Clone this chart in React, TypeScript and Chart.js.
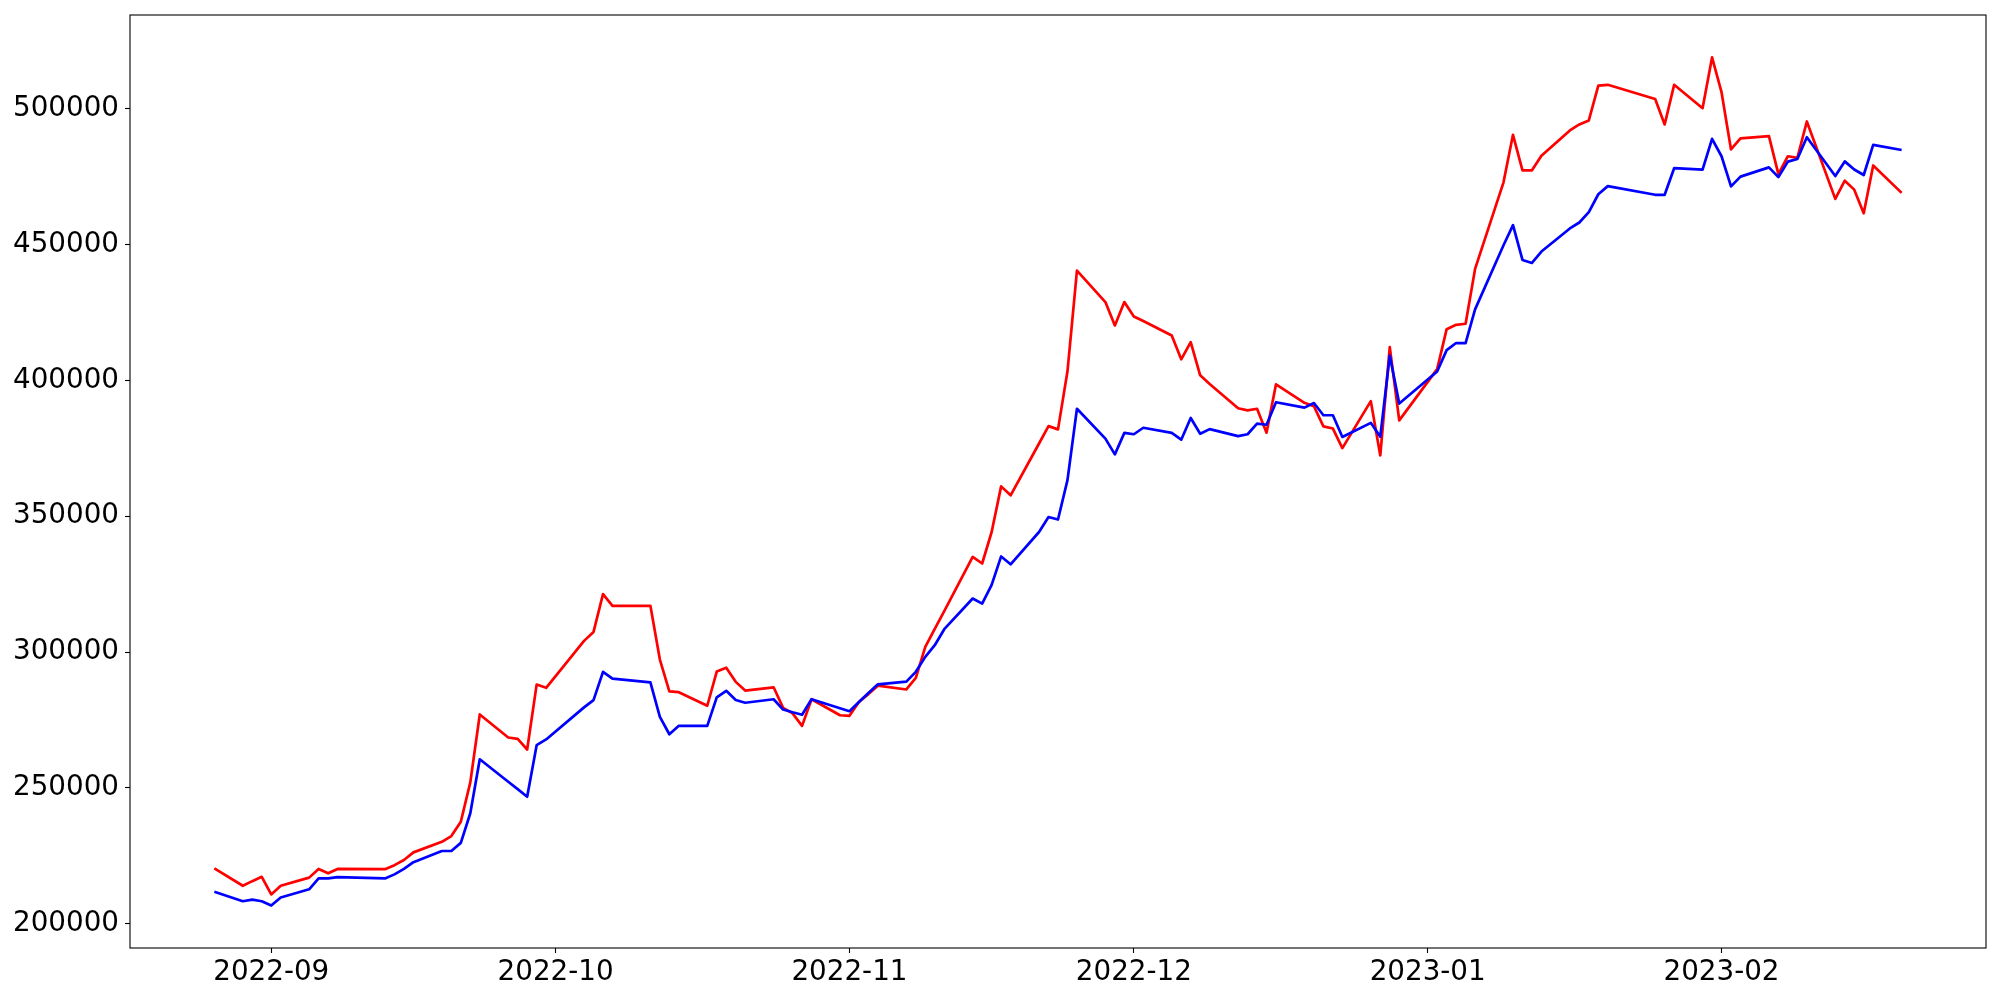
import React, { useEffect, useRef } from 'react';
import { Chart, registerables } from 'chart.js';

Chart.register(...registerables);

// Trading days (KRX calendar)
const dates: string[] = [
  '2022-08-26', '2022-08-29', '2022-08-30', '2022-08-31',
  '2022-09-01', '2022-09-02', '2022-09-05', '2022-09-06', '2022-09-07', '2022-09-08', '2022-09-13', '2022-09-14',
  '2022-09-15', '2022-09-16', '2022-09-19', '2022-09-20', '2022-09-21', '2022-09-22', '2022-09-23', '2022-09-26',
  '2022-09-27', '2022-09-28', '2022-09-29', '2022-09-30',
  '2022-10-04', '2022-10-05', '2022-10-06', '2022-10-07', '2022-10-11', '2022-10-12', '2022-10-13', '2022-10-14',
  '2022-10-17', '2022-10-18', '2022-10-19', '2022-10-20', '2022-10-21', '2022-10-24', '2022-10-25', '2022-10-26',
  '2022-10-27', '2022-10-28', '2022-10-31',
  '2022-11-01', '2022-11-02', '2022-11-03', '2022-11-04', '2022-11-07', '2022-11-08', '2022-11-09', '2022-11-10',
  '2022-11-11', '2022-11-14', '2022-11-15', '2022-11-16', '2022-11-17', '2022-11-18', '2022-11-21', '2022-11-22',
  '2022-11-23', '2022-11-24', '2022-11-25', '2022-11-28', '2022-11-29', '2022-11-30',
  '2022-12-01', '2022-12-02', '2022-12-05', '2022-12-06', '2022-12-07', '2022-12-08', '2022-12-09', '2022-12-12',
  '2022-12-13', '2022-12-14', '2022-12-15', '2022-12-16', '2022-12-19', '2022-12-20', '2022-12-21', '2022-12-22',
  '2022-12-23', '2022-12-26', '2022-12-27', '2022-12-28', '2022-12-29',
  '2023-01-02', '2023-01-03', '2023-01-04', '2023-01-05', '2023-01-06', '2023-01-09', '2023-01-10', '2023-01-11',
  '2023-01-12', '2023-01-13', '2023-01-16', '2023-01-17', '2023-01-18', '2023-01-19', '2023-01-20', '2023-01-25',
  '2023-01-26', '2023-01-27', '2023-01-30', '2023-01-31',
  '2023-02-01', '2023-02-02', '2023-02-03', '2023-02-06', '2023-02-07', '2023-02-08', '2023-02-09', '2023-02-10',
  '2023-02-13', '2023-02-14', '2023-02-15', '2023-02-16', '2023-02-17', '2023-02-20',
];

const redValues: number[] = [
  220300, 213900, 215600, 217200,
  210700, 213900, 216900, 220100, 218500, 220100, 220000, 221500, 223400, 226200, 230100, 232200, 237500, 252000,
  277000, 268500, 268000, 264100, 288000, 286800,
  304100, 307400, 321300, 317000, 317000, 297200, 285500, 285200, 280200, 292800, 294200, 289000, 285800, 287000,
  279400, 277400, 272800, 282600, 276700,
  276500, 281600, 284500, 287600, 286200, 290500, 301900, 308500, 315100, 335000, 332600, 344200, 361000, 357700,
  376800, 383200, 382000, 403400, 440500, 428900, 420300, 428900,
  423600, 421900, 416600, 407800, 414100, 401900, 398700, 389800, 389000, 389600, 380800, 398600, 391800, 390500,
  383100, 382300, 375100, 392400, 372400, 412300, 385300,
  404200, 418900, 420500, 420900, 441100, 473000, 490500, 477400, 477400, 482800, 492100, 494300, 495800, 508600,
  508900, 503700, 494300, 508900, 500300, 519000,
  506200, 485100, 489200, 490000, 476000, 482600, 482000, 495400, 466900, 473600, 470300, 461600, 479200, 469100,
];

const blueValues: number[] = [
  211700, 208200, 208800, 208200,
  206600, 209600, 212600, 216600, 216600, 217100, 216600, 218100, 220100, 222600, 226700, 226700, 229700, 240600,
  260500, 252200, 249500, 246700, 265700, 267800,
  279600, 282300, 292700, 290200, 288800, 276100, 269700, 272800, 272800, 283300, 285700, 282300, 281300, 282600,
  278800, 277800, 276900, 282600, 279300,
  278200, 281600, 284900, 288100, 289100, 292700, 298200, 302500, 308400, 319700, 317800, 324700, 335200, 332300,
  344200, 349700, 348800, 363300, 389600, 378600, 372800, 380700,
  380200, 382600, 380700, 378200, 386200, 380400, 382100, 379500, 380200, 384100, 383700, 392000, 390000, 391700,
  387200, 387200, 379200, 384400, 379300, 409200, 391500,
  403300, 411200, 413800, 413800, 426200, 449800, 457200, 444400, 443300, 447500, 456000, 458200, 462000, 468600,
  471600, 468400, 468400, 478200, 477700, 489000,
  482600, 471500, 475100, 478500, 474900, 480600, 481600, 489600, 475300, 480700, 477700, 475700, 486800, 484900,
];

const xTickDates: string[] = ['2022-09-01', '2022-10-01', '2022-11-01', '2022-12-01', '2023-01-01', '2023-02-01'];
const xTickLabels: string[] = ['2022-09', '2022-10', '2022-11', '2022-12', '2023-01', '2023-02'];
const yTicks: number[] = [200000, 250000, 300000, 350000, 400000, 450000, 500000];

const toDay = (s: string) => {
  const [y, m, d] = s.split('-').map(Number);
  return Date.UTC(y, m - 1, d) / 86400000;
};

export default function App() {
  const ref = useRef<HTMLCanvasElement>(null);

  useEffect(() => {
    const canvas = ref.current;
    if (!canvas) return;
    const xs = dates.map(toDay);
    const allY = [...redValues, ...blueValues];
    const yMinD = Math.min(...allY);
    const yMaxD = Math.max(...allY);
    const yr = yMaxD - yMinD;
    const xMinD = xs[0];
    const xMaxD = xs[xs.length - 1];
    const xr = xMaxD - xMinD;
    const font = { family: 'DejaVu Sans', size: 27.78 };

    const framePlugin = {
      id: 'frame',
      afterDatasetsDraw(chart: any) {
        const { ctx, chartArea } = chart;
        ctx.save();
        ctx.strokeStyle = '#000';
        ctx.lineWidth = 1.1;
        ctx.strokeRect(chartArea.left, chartArea.top, chartArea.right - chartArea.left, chartArea.bottom - chartArea.top);
        ctx.restore();
      },
    };

    const chart = new Chart(canvas, {
      type: 'line',
      data: {
        datasets: [
          {
            label: 'blue',
            data: xs.map((x, i) => ({ x, y: blueValues[i] })),
            borderColor: '#0000ff',
            borderWidth: 2.7,
            pointRadius: 0,
            tension: 0,
            fill: false,
            borderJoinStyle: 'round',
            order: 0,
          },
          {
            label: 'red',
            data: xs.map((x, i) => ({ x, y: redValues[i] })),
            borderColor: '#ff0000',
            borderWidth: 2.7,
            pointRadius: 0,
            tension: 0,
            fill: false,
            borderJoinStyle: 'round',
            order: 1,
          },
        ],
      },
      options: {
        animation: false,
        responsive: false,
        devicePixelRatio: 1,
        layout: { padding: { left: 0, right: 14, top: 15, bottom: 0 } },
        plugins: { legend: { display: false }, tooltip: { enabled: false } },
        scales: {
          x: {
            type: 'linear',
            min: xMinD - 0.05 * xr,
            max: xMaxD + 0.05 * xr,
            afterBuildTicks: (scale: any) => {
              scale.ticks = xTickDates.map((d) => ({ value: toDay(d) }));
            },
            afterFit: (scale: any) => {
              scale.height = 52;
              scale.paddingLeft = 0;
              scale.paddingRight = 0;
            },
            ticks: {
              autoSkip: false,
              maxRotation: 0,
              font,
              color: '#000',
              padding: 3,
              callback: (_v: any, i: number) => xTickLabels[i],
            },
            grid: { drawOnChartArea: false, drawTicks: true, tickLength: 5, tickColor: '#000', tickWidth: 1.1 },
            border: { display: false },
          },
          y: {
            type: 'linear',
            min: yMinD - 0.05 * yr,
            max: yMaxD + 0.05 * yr,
            afterBuildTicks: (scale: any) => {
              scale.ticks = yTicks.map((v) => ({ value: v }));
            },
            afterFit: (scale: any) => {
              scale.width = 130;
              scale.paddingTop = 0;
              scale.paddingBottom = 0;
            },
            ticks: {
              font,
              color: '#000',
              padding: 6,
              callback: (v: any) => String(v),
            },
            grid: { drawOnChartArea: false, drawTicks: true, tickLength: 5, tickColor: '#000', tickWidth: 1.1 },
            border: { display: false },
          },
        },
      },
      plugins: [framePlugin],
    } as any);

    return () => chart.destroy();
  }, []);

  return (
    <div style={{ position: 'fixed', left: 0, top: 0, width: 2000, height: 1000, background: '#fff' }}>
      <canvas ref={ref} width={2000} height={1000} style={{ width: 2000, height: 1000, display: 'block' }} />
    </div>
  );
}
